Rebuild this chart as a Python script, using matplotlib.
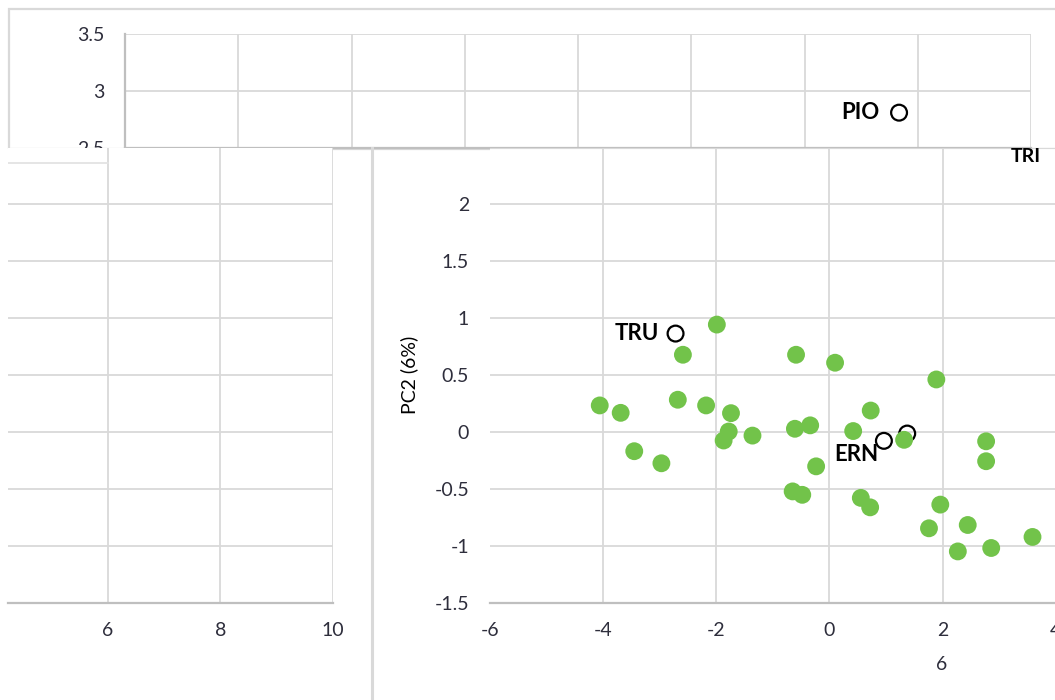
import numpy as np
import matplotlib; matplotlib.use("Agg")
import matplotlib.pyplot as plt
from matplotlib.lines import Line2D
from matplotlib.patches import Rectangle
from matplotlib.ticker import FuncFormatter

plt.rcParams["font.family"] = ["Lato", "DejaVu Sans"]
plt.rcParams["axes.unicode_minus"] = False

# PCA scores (PC1, PC2)
pc1 = [-4.06, -3.69, -3.45, -2.97, -2.68, -2.59, -2.18, -1.99, -1.87, -1.78, -1.74,
       -1.36, -0.65, -0.61, -0.59, -0.48, -0.34, -0.235, 0.10, 0.42, 0.555, 0.72,
       0.73, 1.32, 1.89, 1.76, 1.96, 2.27, 2.445, 2.77, 2.77, 2.86, 3.59]
pc2 = [0.235, 0.17, -0.167, -0.273, 0.285, 0.68, 0.235, 0.945, -0.073, 0.006, 0.167,
       -0.03, -0.52, 0.03, 0.68, -0.55, 0.06, -0.30, 0.61, 0.01, -0.577, -0.66,
       0.19, -0.067, 0.463, -0.844, -0.636, -1.047, -0.815, -0.08, -0.255, -1.017, -0.92]

# reference samples (open circles)
ref_names = ["TRU", "ERN", "", "PIO"]
ref_pc1 = [-2.72, 0.963, 1.375, 1.22]
ref_pc2 = [0.866, -0.076, -0.012, 2.81]

main_xticks = [-6, -4, -2, 0, 2, 4]
main_yticks = [-1.5, -1, -0.5, 0, 0.5, 1, 1.5, 2]
top_yticks = [2.5, 3, 3.5]
left_xticks = [6, 8, 10]

W, H = 1055, 700
def fx(px): return px / W
def fy(py): return 1 - py / H
def box(x0, y0, x1, y1): return [fx(x0), fy(y1), fx(x1) - fx(x0), fy(y0) - fy(y1)]

GRID = "#d9d9d9"; AXIS = "#bfbfbf"; TXT = "#2e2e3c"; GREEN = "#72c34a"
fmt = FuncFormatter(lambda v, p: f"{v:g}")

fig = plt.figure(figsize=(10.55, 7), dpi=100)

# outer frame of upper chart fragment
fig.add_artist(Rectangle((fx(9), fy(149)), 1.2, fy(9) - fy(149), transform=fig.transFigure,
                         fill=False, ec=GRID, lw=1.6))
# separator of the lower right chart
fig.add_artist(Line2D([fx(372), fx(372)], [fy(148), 0], transform=fig.transFigure,
                      color=GRID, lw=2.2))

def style(ax):
    ax.set_facecolor("white")
    ax.tick_params(length=0, labelsize=14, colors=TXT)
    ax.grid(True, color=GRID, lw=1.3)
    ax.set_axisbelow(True)
    for s in ax.spines.values(): s.set_visible(False)
    ax.spines["bottom"].set_visible(True); ax.spines["bottom"].set_color(AXIS)
    ax.spines["bottom"].set_linewidth(1.6)

# upper fragment
top = fig.add_axes(box(125, 34, 1031, 148), zorder=1)
style(top)
top.set_xlim(-12.45, 3.55); top.set_ylim(2.5, 3.5)
top.set_xticks(np.linspace(-12.45, 3.55, 9)); top.set_xticklabels([])
top.set_yticks(top_yticks); top.yaxis.set_major_formatter(fmt)
top.tick_params(axis="y", pad=15)
top.spines["left"].set_visible(True); top.spines["left"].set_color(AXIS)
top.spines["left"].set_linewidth(1.6)
top.scatter(ref_pc1, ref_pc2, s=130, facecolor="none", edgecolor="black", lw=1.6)
top.annotate(ref_names[3], (ref_pc1[3], ref_pc2[3]), xytext=(-20, 0), textcoords="offset pixels",
             ha="right", va="center", fontsize=16, fontweight="bold", color="black")

# left fragment
left = fig.add_axes(box(8, 147.5, 333, 603), zorder=2)
style(left)
left.set_xlim(4.23, 10); left.set_ylim(-1.5, 2.5)
left.set_xticks(left_xticks); left.set_yticks(main_yticks[1:])
left.set_yticklabels([])
left.tick_params(axis="x", pad=14)
left.axhline(2.36, xmax=(6 - 4.23) / (10 - 4.23), color="#e3e3e3", lw=1.3)

# main scatter
ax = fig.add_axes(box(490, 147.5, 1055.7, 603), zorder=3)
style(ax)
ax.spines["top"].set_visible(True); ax.spines["top"].set_color(GRID)
ax.set_xlim(-6, 4); ax.set_ylim(-1.5, 2.5)
ax.set_xticks(main_xticks); ax.set_yticks(main_yticks)
ax.xaxis.set_major_formatter(fmt); ax.yaxis.set_major_formatter(fmt)
ax.xaxis.get_gridlines()[0].set_visible(False)
ax.tick_params(axis="x", pad=14); ax.tick_params(axis="y", pad=15)
ax.set_ylabel("PC2 (6%)", fontsize=14, color="black", labelpad=12)
ax.scatter(ref_pc1[:3], ref_pc2[:3], s=130, facecolor="none", edgecolor="black", lw=1.6, zorder=2)
ax.scatter(pc1, pc2, s=165, color=GREEN, edgecolor="none", zorder=3)
ax.annotate(ref_names[0], (ref_pc1[0], ref_pc2[0]), xytext=(-17, 0), textcoords="offset pixels",
            ha="right", va="center", fontsize=16, fontweight="bold", color="black")
ax.annotate(ref_names[1], (ref_pc1[1], ref_pc2[1]), xytext=(-6, -14), textcoords="offset pixels",
            ha="right", va="center", fontsize=16, fontweight="bold", color="black", zorder=4)

# stray fragments
fig.text(fx(942), fy(664), "6", ha="center", va="center", fontsize=14, color=TXT)
fig.text(fx(1011), fy(157), "TRI", ha="left", va="center", fontsize=14, fontweight="bold",
         color="black", zorder=5)

fig.savefig("out.png", dpi=100)
